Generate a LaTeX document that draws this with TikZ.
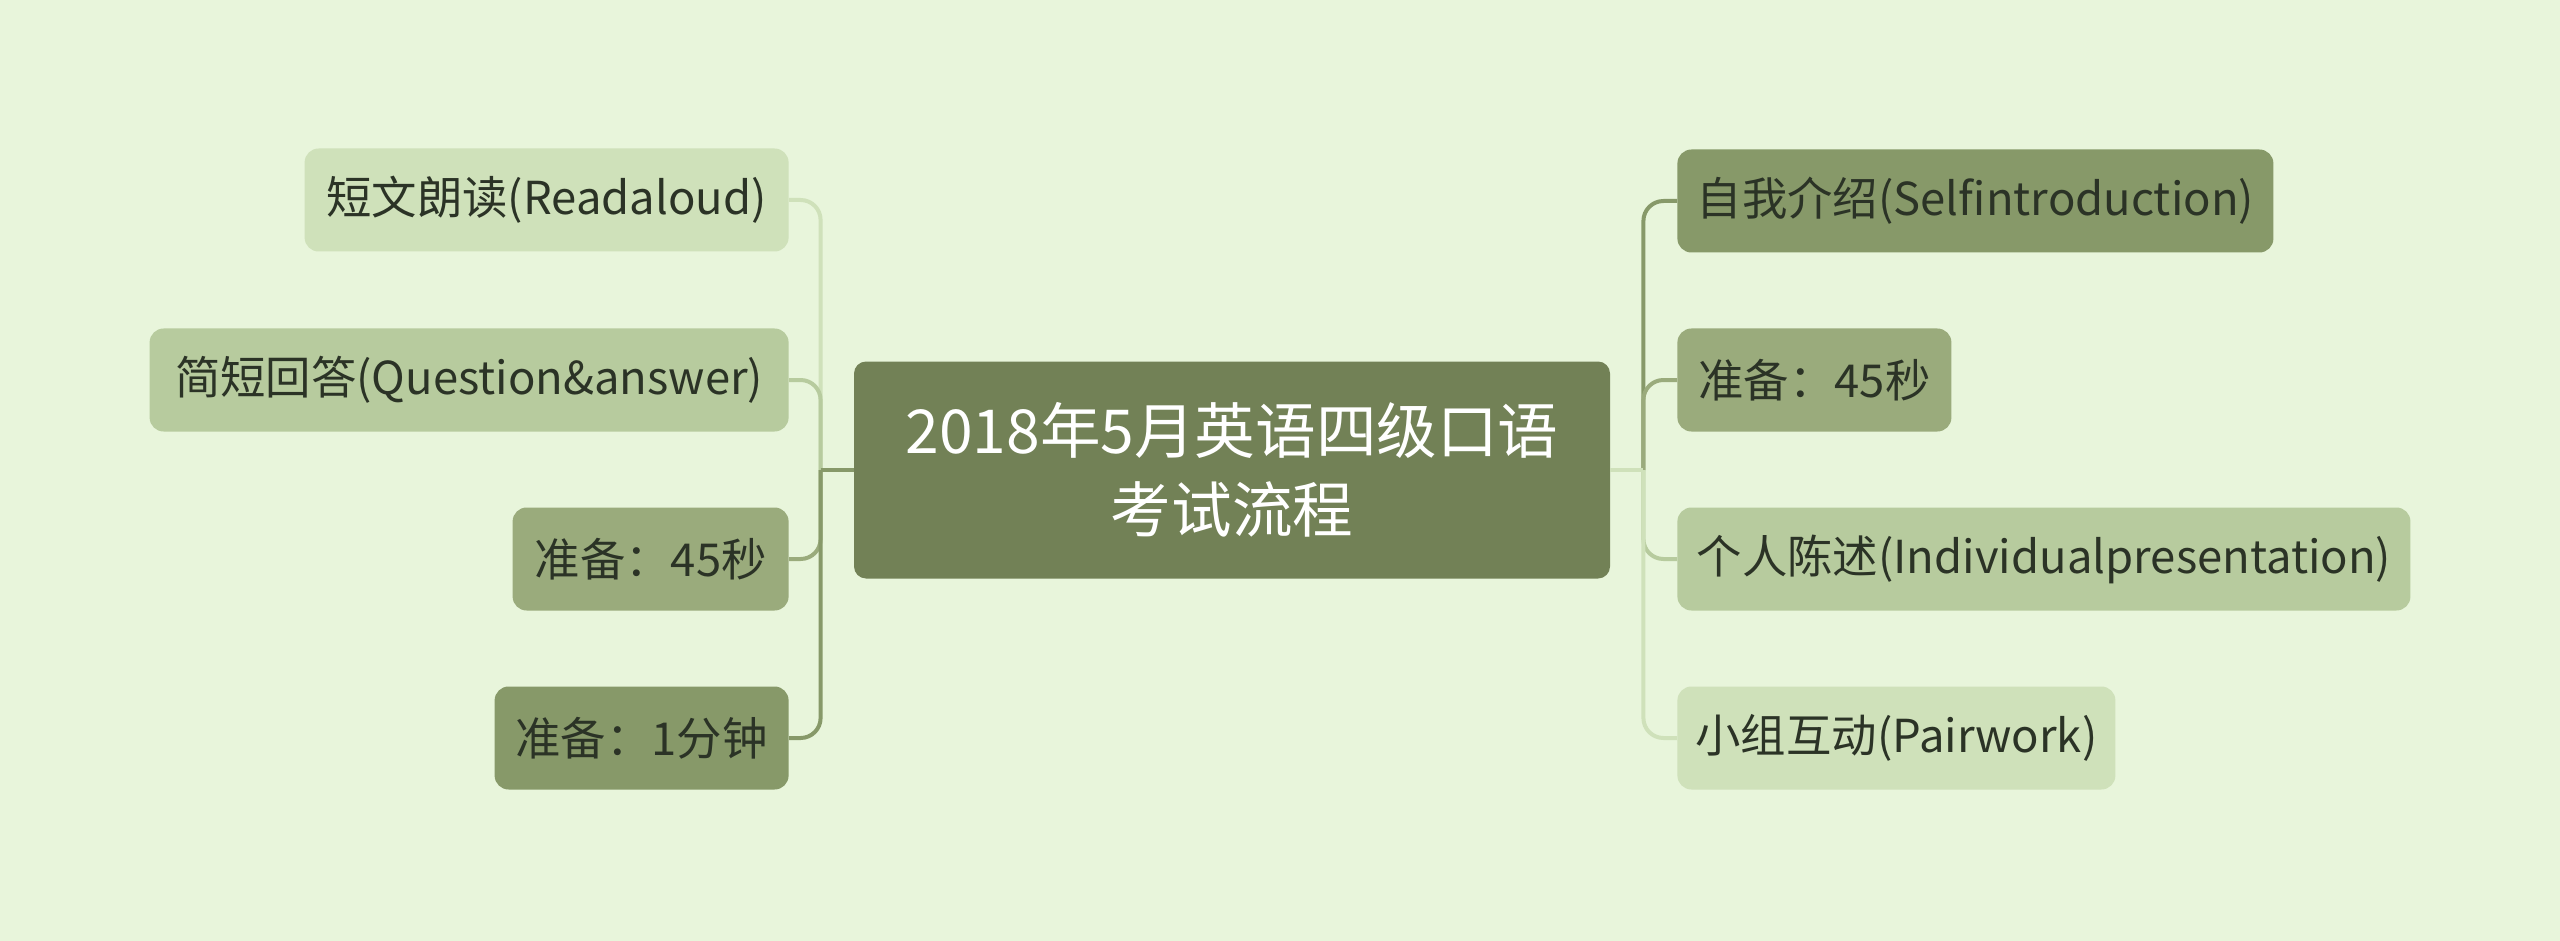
\documentclass[tikz,border=0pt]{standalone}
\usepackage{fontspec}
\setmainfont{Noto Sans CJK SC}
\usepackage{xcolor}
\usetikzlibrary{positioning}
\definecolor{bgc}{HTML}{E8F5DB}
\definecolor{rootc}{HTML}{728156}
\definecolor{lvA}{HTML}{CFE1BA}
\definecolor{lvB}{HTML}{B7CB9E}
\definecolor{lvC}{HTML}{9AAB7C}
\definecolor{lvD}{HTML}{879969}
\definecolor{textc}{HTML}{2B3326}

\begin{document}
\begin{tikzpicture}[x = .5pt, y = -.5pt,
  topic/.style = {rounded corners = 6pt, fill = rootc, text = white, minimum width = 378pt, minimum height = 108.5pt, align = center, font = \fontsize{30.3}{39.5}\selectfont},
  sub/.style = {rounded corners = 7pt, minimum height = 51.5pt, inner sep = 0pt, text = textc, font = \fontsize{22.7}{26}\selectfont},
  link/.style = {line width = 2pt, rounded corners = 10pt}]
  \fill[bgc] (0,0) rectangle (2560,941);
  \useasboundingbox (0,0) rectangle (2560,941);
  \node[topic] (root) at (1232,470) {2018年5月英语四级口语\\考试流程};
  \coordinate (jl) at ([xshift = -16.5pt]root.west);
  \coordinate (jr) at ([xshift = 16.5pt]root.east);
  % left side
  \node[sub, fill = lvA, minimum width = 242pt, anchor = east] (read) at (789,200) {短文朗读(Readaloud)};
  \node[sub, fill = lvB, minimum width = 319.5pt, anchor = east] (qa) at (789,380) {简短回答(Question\&answer)};
  \node[sub, fill = lvC, minimum width = 138pt, anchor = east] (prepl) at (789,559) {准备：45秒};
  \node[sub, fill = lvD, minimum width = 147pt, anchor = east] (prepm) at (789,738) {准备：1分钟};
  % right side
  \node[sub, fill = lvD, minimum width = 298pt, anchor = west] (self) at (1677,201) {自我介绍(Selfintroduction)};
  \node[sub, fill = lvC, minimum width = 137pt, anchor = west] (prepr) at (1677,380) {准备：45秒};
  \node[sub, fill = lvB, minimum width = 366.5pt, anchor = west] (pres) at (1677,559) {个人陈述(Individualpresentation)};
  \node[sub, fill = lvA, minimum width = 219pt, anchor = west] (pair) at (1677,738) {小组互动(Pairwork)};
  \draw[link, lvA] (jl) |- (read.east);
  \draw[link, lvB] (jl) |- (qa.east);
  \draw[link, lvC] (jl) |- (prepl.east);
  \draw[link, lvD] (jl) |- (prepm.east);
  \draw[link, lvD] (root.west) -- (jl);
  \draw[link, lvD] (jr) |- (self.west);
  \draw[link, lvC] (jr) |- (prepr.west);
  \draw[link, lvB] (jr) |- (pres.west);
  \draw[link, lvA] (jr) |- (pair.west);
  \draw[link, lvA] (root.east) -- (jr);
\end{tikzpicture}
\end{document}
